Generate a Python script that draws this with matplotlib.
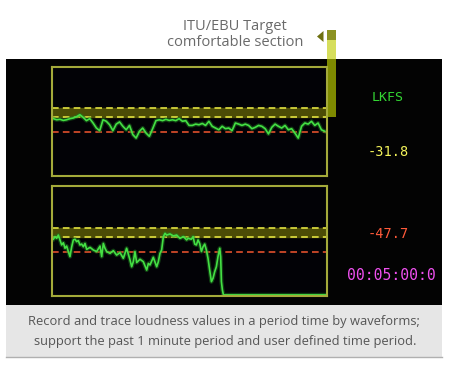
import numpy as np
import matplotlib
matplotlib.use('Agg')
import matplotlib.pyplot as plt
from matplotlib.patches import Rectangle, Polygon

# 数据：响度 (LKFS)
top_values = [-23.7, -24.2, -24.0, -24.5, -24.2, -23.7, -23.4, -22.8, -21.9, -23.1,
              -24.6, -23.7, -25.7, -28.0, -29.2, -24.2, -24.9, -26.5, -29.2, -26.2,
              -25.2, -27.2, -28.8, -26.8, -31.0, -32.6, -29.5, -28.0, -30.3, -31.8,
              -28.3, -24.6, -24.2, -24.6, -24.0, -24.5, -24.2, -24.6, -23.7, -24.9,
              -24.6,
              -26.8, -26.8, -26.2, -26.5, -25.9, -26.8, -24.9, -27.2, -28.0, -28.8,
              -27.2, -28.3, -28.0, -29.2, -25.7, -26.2, -26.8, -26.2, -26.8, -28.3,
              -27.7, -26.8, -27.2, -28.3, -30.7, -27.7, -26.2, -27.2, -28.0, -26.8,
              -28.8, -28.3, -30.3, -32.6, -27.2, -25.7, -26.2, -24.9, -26.8, -25.7,
              -28.8, -29.5]
top_seconds = 60

bottom_times = [1.5, 3.3, 5.1, 6.9, 8.7, 10.5, 12.4, 14.2, 16.0, 17.8,
                19.6, 21.5, 23.3, 25.1, 26.9, 28.7, 30.5, 32.4, 34.2, 36.0,
                37.8, 41.5, 45.1, 48.7, 52.4, 54.2, 56.0, 57.8, 59.6, 63.3,
                66.9, 70.5, 74.2, 77.8, 81.4, 85.1, 86.9, 88.7, 90.5, 92.4,
                96.0, 99.6, 103.3, 105.1, 106.9, 110.5, 114.2, 116.0, 117.8, 119.6,
                121.5, 123.3, 125.1, 128.7, 132.4, 136.0, 139.6, 143.3, 146.9,
                148.4, 152.0, 153.9, 155.7, 157.5, 159.3, 161.1, 163.0, 164.8, 166.6,
                168.4, 170.2, 172.0, 173.9, 175.7, 177.5, 179.3, 181.1, 183.0, 184.0,
                184.8, 185.9, 187.0, 299.0]
bottom_values = [-24.2, -23.0, -23.8, -22.3, -24.5, -26.8, -25.8, -28.3, -27.3, -29.8,
                 -32.1, -27.6, -24.5, -24.2, -25.3, -24.8, -26.8, -26.4, -27.6, -26.1,
                 -28.8, -27.9, -29.1, -29.8, -27.3, -32.1, -26.1, -28.3, -29.8, -30.6,
                 -29.4, -31.4, -30.3, -32.9, -28.3, -33.6, -36.7, -34.4, -29.8, -34.8,
                 -33.3, -34.4, -38.2, -35.2, -35.9, -32.4, -36.7, -34.4, -30.6, -29.1,
                 -23.0, -21.5, -22.3, -21.8, -22.7, -22.3, -23.8, -23.0, -24.5,
                 -23.8, -24.2, -23.0, -26.4, -26.8, -24.5, -26.1, -29.8, -27.6, -26.4,
                 -29.1, -32.9, -38.2, -43.5, -41.9, -38.9, -36.7, -32.1, -28.3, -32.1,
                 -43.5, -47.3, -49.5, -49.5]
bottom_seconds = 300

target_high = -19
target_low = -23
warn_level = -30
y_range = (-50, 0)

readouts = [('LKFS', '#33d633', 97.5), ('-31.8', '#f4f45a', 152),
            ('-47.7', '#ff5a3a', 234), ('00:05:00:0', '#f050f0', 275)]
readout_x = [388, 388, 388, 391.5]
readout_size = [9.5, 9.8, 9.8, 10.6]

W, H = 450, 372
fig = plt.figure(figsize=(W / 100, H / 100), dpi=100)
fig.patch.set_facecolor('white')

# 背景层（像素坐标）
bg = fig.add_axes([0, 0, 1, 1])
bg.set_xlim(0, W)
bg.set_ylim(H, 0)
bg.axis('off')

bg.add_patch(Rectangle((6, 59), 436, 246, facecolor='#030303', edgecolor='none'))
bg.add_patch(Rectangle((6, 305), 436, 52, facecolor='#e6e6e6', edgecolor='none'))
bg.plot([6, 442], [357, 357], color='#b0b0b0', lw=1)

# 指示条
bg.add_patch(Rectangle((327, 30), 8.5, 9.5, facecolor='#8c9222', edgecolor='none'))
bg.add_patch(Rectangle((327, 39.5), 8.5, 19.5, facecolor='#d6de5c', edgecolor='none'))
bg.add_patch(Rectangle((327, 59), 8.5, 58, facecolor='#7e8a00', edgecolor='none', zorder=5))
bg.add_patch(Polygon([(317, 36.5), (323.5, 31), (323.5, 42)], closed=True,
                     facecolor='#6e7010', edgecolor='none'))

bg.text(235, 27, 'ITU/EBU Target', ha='center', va='center', fontsize=10.5,
        color='#6a6a6a', family='Open Sans')
bg.text(235, 43, 'comfortable section', ha='center', va='center', fontsize=10.5,
        color='#6a6a6a', family='Open Sans')

bg.text(224, 321, 'Record and trace loudness values in a period time by waveforms;',
        ha='center', va='center', fontsize=9.3, color='#555555', family='Open Sans')
bg.text(225, 342, 'support the past 1 minute period and user defined time period.',
        ha='center', va='center', fontsize=9.3, color='#555555', family='Open Sans')

for (txt, col, yy), xx, fs in zip(readouts, readout_x, readout_size):
    bg.text(xx, yy, txt, ha='center', va='center', fontsize=fs, color=col,
            family='DejaVu Sans Mono')


def panel(rect_px, t, v, tmax):
    l, t_px, r, b_px = rect_px
    ax = fig.add_axes([l / W, 1 - b_px / H, (r - l) / W, (b_px - t_px) / H])
    ax.set_facecolor('#020206')
    ax.set_xlim(0, tmax)
    ax.set_ylim(*y_range)
    ax.set_xticks([])
    ax.set_yticks([])
    for s in ax.spines.values():
        s.set_color('#a4aa3a')
        s.set_linewidth(1.5)
    ax.axhspan(target_low, target_high, color='#4c4c06')
    ax.axhline(target_high, color='#e0e040', lw=1.2, ls=(0, (4, 2.5)))
    ax.axhline(target_low, color='#e0e040', lw=1.2, ls=(0, (4, 2.5)))
    ax.axhline(warn_level, color='#e0502c', lw=1.2, ls=(0, (4, 2.5)))
    ax.plot(t, v, color='#1f7a1f', lw=3, alpha=0.5)
    ax.plot(t, v, color='#44e044', lw=1.2)
    return ax


top_t = np.linspace(0.3, 59.5, len(top_values))
panel((52, 67, 327, 176), top_t, top_values, top_seconds)
panel((52, 186, 327, 296), bottom_times, bottom_values, bottom_seconds)

fig.savefig('out.png', dpi=100)
